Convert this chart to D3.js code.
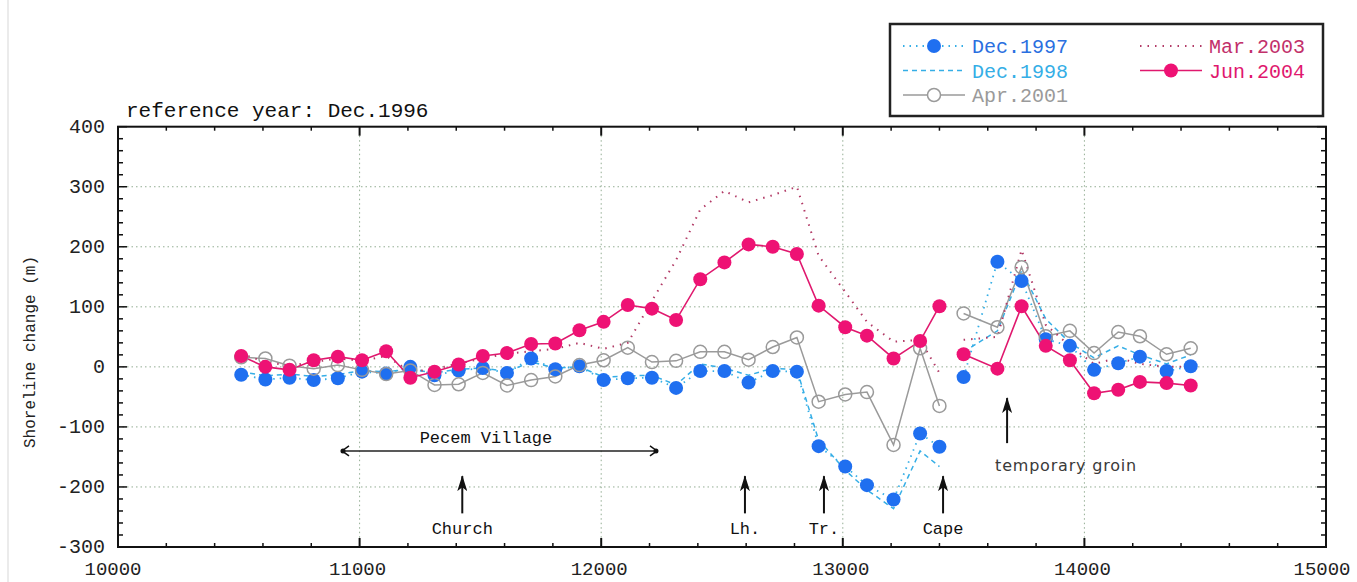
<!DOCTYPE html>
<html lang="en">
<head>
    <meta charset="UTF-8">
    <title>Shoreline change</title>
    <style>
        body {
            margin: 0;
            padding: 0;
            background: #fff;
        }
        svg text {
            font-family: "Liberation Mono", "DejaVu Sans Mono", monospace;
        }
        .tick-label {
            font-size: 20px;
            fill: #222;
        }
        .grid line {
            stroke: #93ad93;
            stroke-width: 1;
            stroke-dasharray: 1.5,3;
        }
        svg text.groin {
            font-family: "DejaVu Sans", "Liberation Sans", sans-serif;
        }
    </style>
</head>
<body>
    <svg id="chart" width="1357" height="582"></svg>
    <script src="https://d3js.org/d3.v7.min.js"></script>
    <script>
        // alongshore stations (m)
        const stations = [10510, 10610, 10710, 10810, 10910, 11010, 11110, 11210, 11310, 11410,
                          11510, 11610, 11710, 11810, 11910, 12010, 12110, 12210, 12310, 12410,
                          12510, 12610, 12710, 12810, 12900, 13010, 13100, 13210, 13320, 13400,
                          13500, 13640, 13740, 13840, 13940, 14040, 14140, 14230, 14340, 14440];
        // the survey lines break between the cape and the groin
        const gapAfter = 13400;

        // shoreline change relative to Dec.1996 (m)
        const dec1997 = [-13, -21, -18, -22, -19, -8, -11, 0, -14, -6,
                         -2, -10, 14, -4, 1, -22, -19, -18, -35, -7,
                         -7, -26, -7, -8, -132, -166, -197, -221, -111, -133,
                         -17, 175, 143, 46, 35, -5, 6, 17, -7, 1];
        const dec1998 = [-8, -15, -12, -16, -13, -6, -8, -4, -10, -4,
                         -2, -8, 8, -2, 0, -17, -15, -14, -30, 5,
                         -2, -14, -2, -5, -122, -172, -205, -236, -140, -166,
                         25, 60, 160, 80, 40, 15, 35, 20, 5, 20];
        const apr2001 = [16, 14, 2, -3, 3, -5, -12, -6, -30, -29,
                         -10, -31, -22, -16, 3, 11, 32, 8, 10, 25,
                         25, 12, 33, 49, -58, -46, -42, -130, 31, -65,
                         89, 66, 166, 51, 60, 23, 58, 51, 21, 31];
        const mar2003 = [22, 8, 2, 8, 14, 10, 18, -8, -4, 6,
                         14, 22, 26, 30, 40, 30, 40, 110, 178, 262,
                         293, 274, 286, 300, 185, 125, 75, 42, 45, -10,
                         45, 50, 195, 70, 35, 5, 15, 5, 0, 0];
        const jun2004 = [18, 0, -5, 11, 17, 11, 26, -18, -8, 4,
                         18, 23, 38, 39, 61, 75, 103, 97, 78, 146,
                         174, 204, 200, 188, 102, 66, 52, 14, 43, 101,
                         21, -3, 101, 35, 11, -44, -38, -25, -27, -31];

        const series = [
            { name: 'Dec.1997', values: dec1997, line: '#35aee6', text: '#2a6fe0', dash: '1.5,5', width: 1.8, marker: 'fill', mcolor: '#1f6ff0' },
            { name: 'Dec.1998', values: dec1998, line: '#35aee6', text: '#35aee6', dash: '5,4', width: 1.5, marker: null },
            { name: 'Apr.2001', values: apr2001, line: '#9a9a9a', text: '#9a9a9a', dash: null, width: 1.5, marker: 'open', mcolor: '#9a9a9a' },
            { name: 'Mar.2003', values: mar2003, line: '#b23a66', text: '#c2306a', dash: '1.5,6', width: 2, marker: null },
            { name: 'Jun.2004', values: jun2004, line: '#e0186e', text: '#e0186e', dash: null, width: 1.6, marker: 'fill', mcolor: '#ee1274' }
        ];

        const yTicks = [-300, -200, -100, 0, 100, 200, 300, 400];
        const xTicks = [10000, 11000, 12000, 13000, 14000, 15000];

        const landmarks = [
            { name: 'Church', x: 11425 },
            { name: 'Lh.', x: 12595 },
            { name: 'Tr.', x: 12922 },
            { name: 'Cape', x: 13415 }
        ];

        const svg = d3.select('#chart');
        const pL = 118, pR = 1326, pT = 126.7, pB = 547;

        const x = d3.scaleLinear().domain([10000, 15000]).range([pL, pR]);
        const y = d3.scaleLinear().domain([-300, 400]).range([pB, pT]);

        // faint border of the scanned figure
        svg.append('line').attr('x1', 8).attr('x2', 8).attr('y1', 0).attr('y2', 582)
            .attr('stroke', '#e4e4e4').attr('stroke-width', 1.5);

        // grid
        const grid = svg.append('g').attr('class', 'grid');
        grid.selectAll('.gx').data(xTicks.slice(1, -1)).enter().append('line')
            .attr('x1', d => x(d)).attr('x2', d => x(d)).attr('y1', pT).attr('y2', pB);
        grid.selectAll('.gy').data(yTicks.slice(1, -1)).enter().append('line')
            .attr('x1', pL).attr('x2', pR).attr('y1', d => y(d)).attr('y2', d => y(d));

        // axes with inward ticks on all four sides
        const xMinor = d3.range(10000, 15001, 200);
        const yMinor = d3.range(-300, 401, 20);
        const axes = svg.append('g').attr('stroke', '#111');
        function addTicks(sel, vals, isMajor) {
            const len = isMajor ? 9 : 4;
            const sub = vals.filter(v => (v % 1000 === 0) === isMajor);
            sel.append('g').selectAll('line').data(sub).enter()
                .append('line').attr('x1', d => x(d)).attr('x2', d => x(d))
                .attr('y1', pB).attr('y2', pB - len).attr('stroke-width', isMajor ? 2 : 1.5);
            sel.append('g').selectAll('line').data(sub).enter()
                .append('line').attr('x1', d => x(d)).attr('x2', d => x(d))
                .attr('y1', pT).attr('y2', pT + len).attr('stroke-width', isMajor ? 2 : 1.5);
        }
        addTicks(axes, xMinor, true);
        addTicks(axes, xMinor, false);
        axes.append('g').selectAll('line').data(yMinor).enter().append('line')
            .attr('x1', pL).attr('x2', d => pL + (d % 100 === 0 ? 9 : 5))
            .attr('y1', d => y(d)).attr('y2', d => y(d)).attr('stroke-width', 1.5);
        axes.append('g').selectAll('line').data(yMinor).enter().append('line')
            .attr('x1', pR).attr('x2', d => pR - (d % 100 === 0 ? 9 : 5))
            .attr('y1', d => y(d)).attr('y2', d => y(d)).attr('stroke-width', 1.5);
        svg.append('rect').attr('x', pL).attr('y', pT)
            .attr('width', pR - pL).attr('height', pB - pT)
            .attr('fill', 'none').attr('stroke', '#111').attr('stroke-width', 2);

        svg.append('g').selectAll('text').data(yTicks).enter().append('text')
            .attr('class', 'tick-label').attr('x', 105).attr('y', d => y(d) + 6)
            .attr('text-anchor', 'end').text(d => d);
        svg.append('g').selectAll('text').data(xTicks).enter().append('text')
            .attr('class', 'tick-label').style('font-size', '19px')
            .attr('x', d => x(d) - (d === 10000 ? 5 : d === 15000 ? 4 : 2))
            .attr('y', 575).attr('text-anchor', 'middle').text(d => d);

        svg.append('text')
            .attr('transform', 'translate(35,352) rotate(-90)')
            .attr('text-anchor', 'middle').attr('font-size', 16).attr('fill', '#222')
            .text('Shoreline change (m)');

        svg.append('text').attr('x', 126).attr('y', 117).attr('font-size', 21).attr('fill', '#111')
            .text('reference year: Dec.1996');

        // data lines
        const idx = stations.map((s, i) => i);
        const segments = [idx.filter(i => stations[i] <= gapAfter), idx.filter(i => stations[i] > gapAfter)];
        const line = d3.line().x(i => x(stations[i]));
        const plot = svg.append('g');
        series.forEach(s => {
            line.y(i => y(s.values[i]));
            segments.forEach(seg => {
                plot.append('path').attr('d', line(seg)).attr('fill', 'none')
                    .attr('stroke', s.line).attr('stroke-width', s.width)
                    .attr('stroke-dasharray', s.dash);
            });
        });
        series.filter(s => s.marker).forEach(s => {
            plot.append('g').selectAll('circle').data(stations).enter().append('circle')
                .attr('cx', d => x(d)).attr('cy', (d, i) => y(s.values[i]))
                .attr('r', s.marker === 'fill' ? 7 : 6.5)
                .attr('fill', s.marker === 'fill' ? s.mcolor : 'none')
                .attr('stroke', s.mcolor).attr('stroke-width', s.marker === 'fill' ? 0 : 1.5);
        });

        // annotations
        const defs = svg.append('defs');
        defs.append('marker').attr('id', 'head').attr('viewBox', '0 0 16 10')
            .attr('refX', 15).attr('refY', 5).attr('markerWidth', 16).attr('markerHeight', 10)
            .attr('markerUnits', 'userSpaceOnUse').attr('orient', 'auto')
            .append('path').attr('d', 'M0,0 L16,5 L0,10 L4,5 Z').attr('fill', '#111');
        const chev = defs.append('marker').attr('id', 'chev').attr('viewBox', '-8 -6 12 12')
            .attr('refX', 2).attr('refY', 0).attr('markerWidth', 12).attr('markerHeight', 12)
            .attr('markerUnits', 'userSpaceOnUse').attr('orient', 'auto-start-reverse');
        chev.append('path').attr('d', 'M-6,-5 L1,0 L-6,5').attr('fill', 'none')
            .attr('stroke', '#111').attr('stroke-width', 1.5);
        chev.append('circle').attr('cx', 0).attr('cy', 0).attr('r', 2.5).attr('fill', '#111');

        const notes = svg.append('g');
        notes.append('line').attr('x1', x(10923)).attr('x2', x(12235))
            .attr('y1', y(-140)).attr('y2', y(-140)).attr('stroke', '#222').attr('stroke-width', 1.5)
            .attr('marker-start', 'url(#chev)').attr('marker-end', 'url(#chev)');
        notes.append('text').attr('x', x(11523)).attr('y', y(-117) + 6)
            .attr('text-anchor', 'middle').attr('font-size', 17).attr('fill', '#111')
            .text('Pecem Village');

        notes.selectAll('.lm').data(landmarks).enter().append('line')
            .attr('x1', d => x(d.x)).attr('x2', d => x(d.x))
            .attr('y1', y(-244)).attr('y2', y(-182))
            .attr('stroke', '#111').attr('stroke-width', 2).attr('marker-end', 'url(#head)');
        notes.selectAll('.lt').data(landmarks).enter().append('text')
            .attr('x', d => x(d.x)).attr('y', y(-269) + 6)
            .attr('text-anchor', 'middle').attr('font-size', 17).attr('fill', '#111')
            .text(d => d.name);

        notes.append('line').attr('x1', x(13680)).attr('x2', x(13680))
            .attr('y1', y(-127)).attr('y2', y(-52))
            .attr('stroke', '#111').attr('stroke-width', 2).attr('marker-end', 'url(#head)');
        notes.append('text').attr('class', 'groin').attr('x', x(13924)).attr('y', y(-165) + 5)
            .attr('text-anchor', 'middle').attr('font-size', 16).attr('letter-spacing', 0.8)
            .attr('fill', '#3a3a3a').text('temporary groin');

        // legend
        const lg = svg.append('g');
        lg.append('rect').attr('x', 890).attr('y', 24).attr('width', 433).attr('height', 92)
            .attr('fill', '#fff').attr('stroke', '#222').attr('stroke-width', 2.5);
        const cols = [[series[0], series[1], series[2]], [series[3], series[4]]];
        const colX = [903, 1140];
        cols.forEach((col, c) => {
            col.forEach((s, r) => {
                const cy = 46 + r * 24.5;
                const x0 = colX[c], x1 = colX[c] + 62;
                lg.append('line').attr('x1', x0).attr('x2', x1).attr('y1', cy).attr('y2', cy)
                    .attr('stroke', s.line).attr('stroke-width', s.width)
                    .attr('stroke-dasharray', s.dash);
                if (s.marker) {
                    lg.append('circle').attr('cx', (x0 + x1) / 2).attr('cy', cy)
                        .attr('r', s.marker === 'fill' ? 7 : 6.5)
                        .attr('fill', s.marker === 'fill' ? s.mcolor : '#fff')
                        .attr('stroke', s.mcolor).attr('stroke-width', s.marker === 'fill' ? 0 : 1.5);
                }
                lg.append('text').attr('x', x1 + 7).attr('y', cy + 7)
                    .attr('font-size', 20).attr('fill', s.text).text(s.name);
            });
        });
    </script>
</body>
</html>
